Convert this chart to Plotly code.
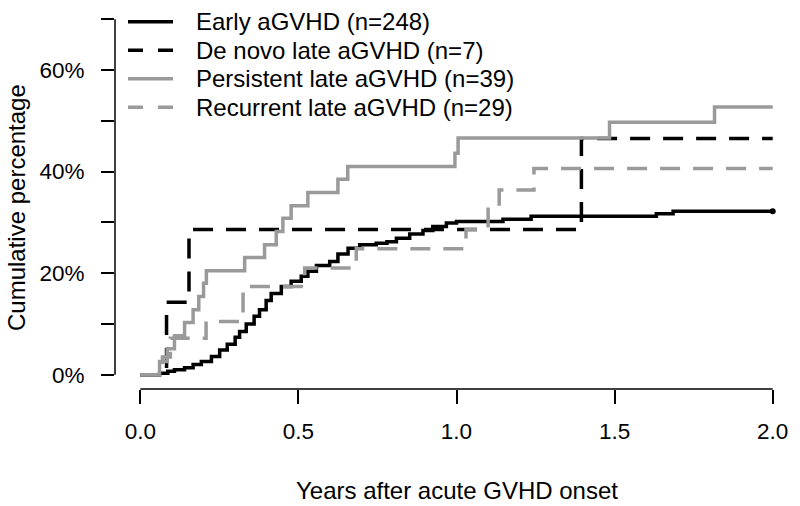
import plotly.graph_objects as go

# ---------------- data ----------------
early_x = [0.0, 0.061, 0.087, 0.108, 0.14, 0.167, 0.193, 0.225, 0.251, 0.275, 0.30, 0.314,
           0.335, 0.36, 0.377, 0.398, 0.414, 0.446, 0.477, 0.509, 0.53, 0.557, 0.599, 0.625,
           0.657, 0.694, 0.746, 0.78, 0.81, 0.852, 0.894, 0.925, 0.968, 1.0, 1.147, 1.236,
           1.632, 1.685, 2.0]
early_y = [0, 0.3, 0.7, 1.0, 1.4, 2.0, 2.6, 3.6, 4.9, 6.0, 7.4, 8.5,
           10.0, 11.5, 12.8, 14.6, 16.0, 17.4, 18.4, 19.4, 20.4, 21.5, 22.3, 23.8,
           24.9, 25.6, 25.9, 26.2, 26.9, 27.7, 28.4, 29.2, 29.9, 30.2, 30.6, 31.2,
           31.7, 32.2, 32.2]

denovo_x = [0.0, 0.083, 0.154, 1.395, 2.0]
denovo_y = [0, 14.3, 28.6, 46.5, 46.5]

persist_x = [0.0, 0.061, 0.085, 0.108, 0.14, 0.167, 0.185, 0.20, 0.209, 0.33, 0.393, 0.43,
             0.451, 0.477, 0.53, 0.625, 0.656, 0.995, 1.005, 1.484, 1.816, 2.0]
persist_y = [0, 2.6, 5.1, 7.7, 10.3, 12.8, 15.4, 18.0, 20.5, 23.1, 25.6, 28.2,
             30.8, 33.3, 35.9, 38.5, 41.0, 43.6, 46.6, 49.7, 52.7, 52.7]

recur_x = [0.0, 0.07, 0.095, 0.208, 0.325, 0.52, 0.683, 1.03, 1.10, 1.135, 1.245, 2.0]
recur_y = [0, 3.5, 7.2, 10.5, 17.4, 21.0, 24.8, 28.6, 32.6, 36.4, 40.6, 40.6]

series_names = ["Early aGVHD (n=248)", "De novo late aGVHD (n=7)",
                "Persistent late aGVHD (n=39)", "Recurrent late aGVHD (n=29)"]

x_ticks = [0.0, 0.5, 1.0, 1.5, 2.0]
y_ticks = [0, 10, 20, 30, 40, 50, 60, 70]
y_tick_labels = ["0%", "", "20%", "", "40%", "", "60%", ""]

x_title = "Years after acute GVHD onset"
y_title = "Cumulative percentage"

# ---------------- styling ----------------
W, H = 800, 506
ML, MR, MT, MB = 115, 2, 5, 117
FONT = "Liberation Sans, Arial, sans-serif"
BLACK = "#000000"
GRAY = "#9a9a9a"
LW = 3.5
DASH = "20px,13px"

styles = [
    dict(color=BLACK, dash="solid"),
    dict(color=BLACK, dash=DASH),
    dict(color=GRAY, dash="solid"),
    dict(color=GRAY, dash=DASH),
]
data = [(early_x, early_y), (denovo_x, denovo_y), (persist_x, persist_y), (recur_x, recur_y)]

fig = go.Figure()
for (xs, ys), st, name in zip(data, styles, series_names):
    fig.add_trace(go.Scatter(
        x=xs, y=ys, mode="lines", name=name, line_shape="hv",
        line=dict(color=st["color"], width=LW, dash=st["dash"]),
        showlegend=False, hoverinfo="skip"))

# end dot on the early curve
fig.add_trace(go.Scatter(x=[early_x[-1]], y=[early_y[-1]], mode="markers",
                         marker=dict(color=BLACK, size=6), showlegend=False, hoverinfo="skip"))

pw = W - ML - MR
ph = H - MT - MB


def px2x(px):
    return (px - ML) / pw


def px2y(py):
    return (H - MB - py) / ph


shapes = []
# R-style detached axis lines spanning first..last tick
shapes.append(dict(type="line", xref="x", yref="paper", x0=x_ticks[0], x1=x_ticks[-1],
                   y0=0, y1=0, line=dict(color=BLACK, width=1.5)))
shapes.append(dict(type="line", xref="paper", yref="y", x0=0, x1=0,
                   y0=y_ticks[0], y1=y_ticks[-1], line=dict(color=BLACK, width=1.5)))

annotations = []
# legend drawn manually
leg_rows = [21.7, 50.2, 78.8, 107.3]
for row, st, name in zip(leg_rows, styles, series_names):
    shapes.append(dict(type="line", xref="paper", yref="paper",
                       x0=px2x(128), x1=px2x(173), y0=px2y(row), y1=px2y(row),
                       line=dict(color=st["color"], width=LW,
                                 dash="solid" if st["dash"] == "solid" else "15px,15px")))
    annotations.append(dict(xref="paper", yref="paper", x=px2x(194), y=px2y(row),
                            text=name, showarrow=False, xanchor="left", yanchor="middle",
                            font=dict(family=FONT, size=24, color=BLACK)))

annotations.append(dict(xref="paper", yref="paper", x=0.5, y=px2y(490), text=x_title,
                        showarrow=False, xanchor="center", yanchor="middle",
                        font=dict(family=FONT, size=24, color=BLACK)))
annotations.append(dict(xref="paper", yref="paper", x=px2x(17), y=px2y(208), text=y_title,
                        textangle=-90, showarrow=False, xanchor="center", yanchor="middle",
                        font=dict(family=FONT, size=24, color=BLACK)))

fig.update_layout(
    width=W, height=H,
    margin=dict(l=ML, r=MR, t=MT, b=MB, pad=0),
    paper_bgcolor="white", plot_bgcolor="white",
    font=dict(family=FONT, color=BLACK),
    shapes=shapes, annotations=annotations,
    xaxis=dict(range=[-0.08, 2.08], showgrid=False, zeroline=False, showline=False,
               tickmode="array", tickvals=x_ticks, ticktext=[f"{v:.1f}" for v in x_ticks],
               ticks="outside", ticklen=14, tickwidth=1.5, tickcolor=BLACK,
               tickfont=dict(family=FONT, size=22.5, color=BLACK), ticklabelstandoff=8),
    yaxis=dict(range=[-2.8, 72.8], showgrid=False, zeroline=False, showline=False,
               tickmode="array", tickvals=y_ticks, ticktext=y_tick_labels,
               ticks="outside", ticklen=13, tickwidth=1.5, tickcolor=BLACK,
               tickfont=dict(family=FONT, size=22.5, color=BLACK), ticklabelstandoff=12),
)

fig.write_html("out.html", config={"displayModeBar": False},
               post_script="document.body.style.margin='0';document.body.style.overflow='hidden';")
